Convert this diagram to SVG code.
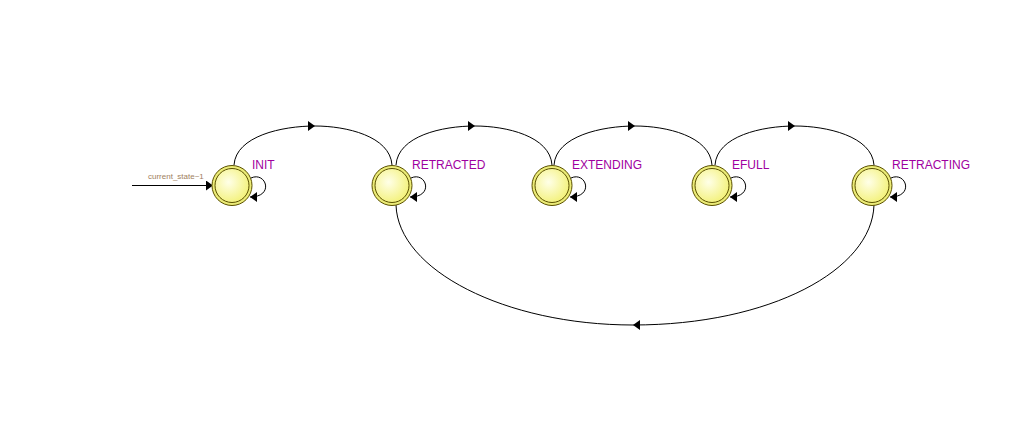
<svg xmlns="http://www.w3.org/2000/svg" width="1028" height="439" viewBox="0 0 1028 439">
<style>
.edge{fill:none;stroke:#000;stroke-width:1}
.ring{fill:#ecec78;stroke:#5a5000;stroke-width:1}
.core{fill:url(#g);stroke:#5a5000;stroke-width:1}
.lbl{font-family:"Liberation Sans",Arial,sans-serif;font-size:12px;fill:#a000a0}
.cond{font-family:"Liberation Sans",Arial,sans-serif;font-size:8px;fill:#a08060}
</style>
<defs>
<radialGradient id="g" cx="0.4" cy="0.4" r="0.7">
<stop offset="0" stop-color="#ffffe8"/>
<stop offset="1" stop-color="#f2f070"/>
</radialGradient>
<marker id="arr" viewBox="0 0 7 10" refX="7" refY="5" markerWidth="7" markerHeight="10" markerUnits="userSpaceOnUse" orient="auto">
<path d="M0,0 L7,5 L0,10 z" fill="#000"/>
</marker>
</defs>
<rect width="1028" height="439" fill="#fff"/>
<g id="connectors">
<path class="edge" d="M132,185.5 L213,185.5" marker-end="url(#arr)"/>
<path class="edge" d="M234,165 C236,136 282,126 315,126" marker-end="url(#arr)"/>
<path class="edge" d="M315,126 C346,126 390,136 392,165"/>
<path class="edge" d="M396,165 C398,136 442,126 475,126" marker-end="url(#arr)"/>
<path class="edge" d="M475,126 C506,126 550,136 552,165"/>
<path class="edge" d="M554,165 C556,136 602,126 635,126" marker-end="url(#arr)"/>
<path class="edge" d="M635,126 C666,126 710,136 712,165"/>
<path class="edge" d="M715,165 C717,136 762,126 795,126" marker-end="url(#arr)"/>
<path class="edge" d="M795,126 C826,126 872,136 874,165"/>
<path class="edge" d="M874,205 C872,270 770,325 633,325" marker-end="url(#arr)"/>
<path class="edge" d="M633,325 C505,325 398,270 396,205"/>
<path class="edge" d="M251,178 C266,171 275,197 250,197" marker-end="url(#arr)"/>
<path class="edge" d="M411,178 C426,171 435,197 410,197" marker-end="url(#arr)"/>
<path class="edge" d="M571,178 C586,171 595,197 570,197" marker-end="url(#arr)"/>
<path class="edge" d="M731,178 C746,171 755,197 730,197" marker-end="url(#arr)"/>
<path class="edge" d="M891,178 C906,171 915,197 890,197" marker-end="url(#arr)"/>
<text class="cond" x="148" y="179">current_state~1</text>
</g>
<g id="INIT">
<circle class="ring" cx="232" cy="185.5" r="20"/>
<circle class="core" cx="232" cy="185.5" r="17"/>
<text class="lbl" x="252" y="169">INIT</text>
</g>
<g id="RETRACTED">
<circle class="ring" cx="392" cy="185.5" r="20"/>
<circle class="core" cx="392" cy="185.5" r="17"/>
<text class="lbl" x="412" y="169">RETRACTED</text>
</g>
<g id="EXTENDING">
<circle class="ring" cx="552" cy="185.5" r="20"/>
<circle class="core" cx="552" cy="185.5" r="17"/>
<text class="lbl" x="572" y="169">EXTENDING</text>
</g>
<g id="EFULL">
<circle class="ring" cx="712" cy="185.5" r="20"/>
<circle class="core" cx="712" cy="185.5" r="17"/>
<text class="lbl" x="732" y="169">EFULL</text>
</g>
<g id="RETRACTING">
<circle class="ring" cx="872" cy="185.5" r="20"/>
<circle class="core" cx="872" cy="185.5" r="17"/>
<text class="lbl" x="892" y="169">RETRACTING</text>
</g>
</svg>
